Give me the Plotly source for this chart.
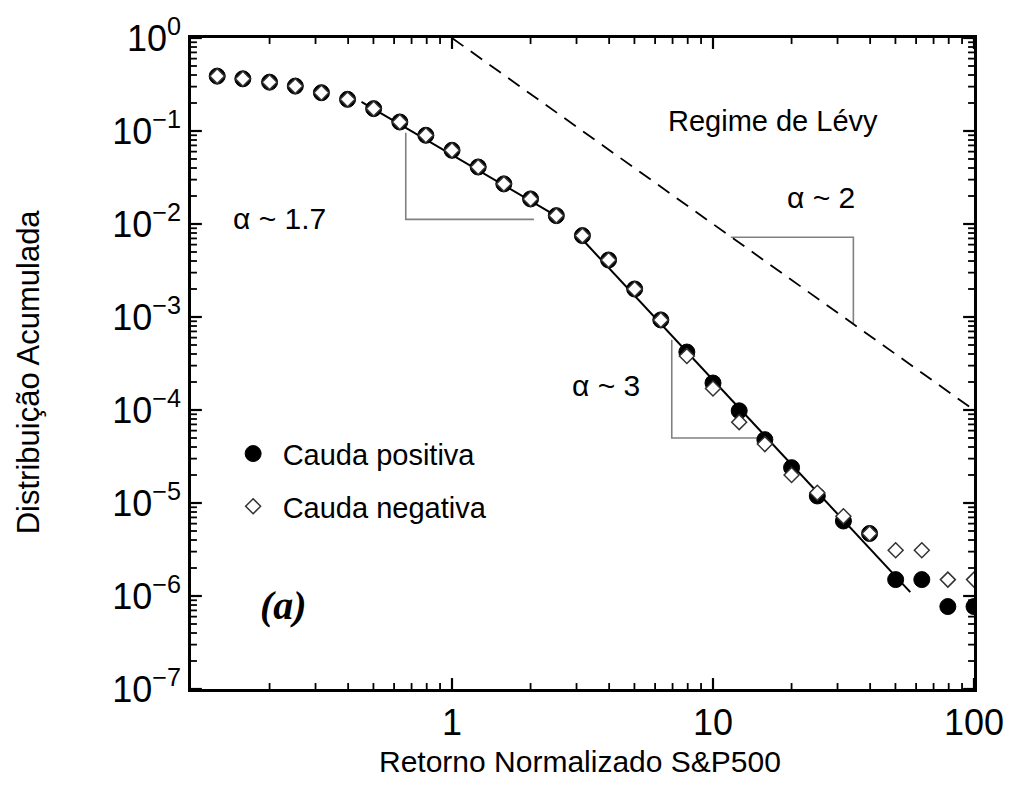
import plotly.graph_objects as go

# ---- data ----
x_vals = [0.126, 0.158, 0.2, 0.251, 0.316, 0.398, 0.501, 0.631, 0.794, 1.0,
          1.26, 1.58, 2.0, 2.51, 3.16, 3.98, 5.01, 6.31, 7.94, 10.0,
          12.6, 15.8, 20.0, 25.1, 31.6, 39.8, 50.1, 63.1, 79.4, 100.0]
cauda_pos = [0.389, 0.364, 0.335, 0.304, 0.258, 0.219, 0.174, 0.125, 0.090, 0.062,
             0.041, 0.027, 0.0186, 0.0123, 0.0075, 0.0041, 0.0020, 0.00093, 0.00042, 0.000195,
             0.000098, 0.000048, 0.000024, 0.0000119, 0.0000064, 0.0000047, 0.0000015, 0.0000015,
             0.00000077, 0.00000077]
cauda_neg = [0.389, 0.364, 0.335, 0.304, 0.258, 0.219, 0.174, 0.125, 0.090, 0.062,
             0.041, 0.027, 0.0186, 0.0123, 0.0075, 0.0041, 0.0020, 0.00093, 0.00038, 0.00017,
             0.000074, 0.000043, 0.000020, 0.0000129, 0.0000072, 0.0000047, 0.0000031, 0.0000031,
             0.0000015, 0.0000015]

fit17_x = [0.45, 2.6]
fit17_y = [0.206, 0.0115]
fit3_x = [3.02, 57.0]
fit3_y = [0.0078, 0.0000011]
levy_x = [1.0, 100.0]
levy_y = [1.0, 0.0001]
tri17_x = [0.665, 0.665, 2.06]
tri17_y = [0.096, 0.0112, 0.0112]
tri2_x = [11.7, 34.5, 34.5]
tri2_y = [0.0072, 0.0072, 0.00085]
tri3_x = [6.95, 6.95, 14.9]
tri3_y = [0.00057, 0.00005, 0.00005]

y_tickvals = [1, 0.1, 0.01, 0.001, 0.0001, 0.00001, 0.000001, 0.0000001]
y_ticktext = ["10<sup>0</sup>", "10<sup>\u22121</sup>", "10<sup>\u22122</sup>", "10<sup>\u22123</sup>",
              "10<sup>\u22124</sup>", "10<sup>\u22125</sup>", "10<sup>\u22126</sup>", "10<sup>\u22127</sup>"]
x_tickvals = [1, 10, 100]
x_ticktext = ["1", "10", "100"]
minor_digits = [2, 3, 4, 5, 6, 7, 8, 9]
x_decades = [0.1, 1, 10]
y_decades = [1e-7, 1e-6, 1e-5, 1e-4, 1e-3, 1e-2, 1e-1]
x_minor = [d * m for d in x_decades for m in minor_digits]
y_minor = [d * m for d in y_decades for m in minor_digits]

FONT = "Liberation Sans, Arial, sans-serif"

fig = go.Figure()

gray = "#808080"
for tx, ty in [(tri17_x, tri17_y), (tri2_x, tri2_y), (tri3_x, tri3_y)]:
    fig.add_trace(go.Scatter(x=tx, y=ty, mode="lines", line=dict(color=gray, width=1.6),
                             showlegend=False, hoverinfo="skip"))

fig.add_trace(go.Scatter(x=levy_x, y=levy_y, mode="lines",
                         line=dict(color="black", width=1.8, dash="14px,9px"),
                         showlegend=False, hoverinfo="skip"))
fig.add_trace(go.Scatter(x=fit17_x, y=fit17_y, mode="lines",
                         line=dict(color="black", width=2), showlegend=False, hoverinfo="skip"))
fig.add_trace(go.Scatter(x=fit3_x, y=fit3_y, mode="lines",
                         line=dict(color="black", width=2), showlegend=False, hoverinfo="skip"))

fig.add_trace(go.Scatter(x=x_vals, y=cauda_pos, mode="markers", name="Cauda positiva",
                         legendgroup="a",
                         marker=dict(symbol="circle", size=16, color="black",
                                     line=dict(color="black", width=1))))
fig.add_trace(go.Scatter(x=x_vals, y=cauda_neg, mode="markers", name="Cauda negativa",
                         legendgroup="b",
                         marker=dict(symbol="diamond", size=11.5, color="white",
                                     line=dict(color="#333333", width=1.5))))

W, H = 1016, 785
L, R, T, B = 191, 33, 35, 96
pw, ph = W - L - R, H - T - B

def px(x):
    return (x - L) / pw

def py(y):
    return (H - B - y) / ph

# inside tick marks on all four sides (shapes positioned by axis values)
shapes = []
def xtick(v, ln, w):
    f = ln / ph
    shapes.append(dict(type="line", xref="x", yref="paper", x0=v, x1=v, y0=0, y1=f,
                       line=dict(color="black", width=w)))
    shapes.append(dict(type="line", xref="x", yref="paper", x0=v, x1=v, y0=1, y1=1 - f,
                       line=dict(color="black", width=w)))

def ytick(v, ln, w):
    f = ln / pw
    shapes.append(dict(type="line", xref="paper", yref="y", x0=0, x1=f, y0=v, y1=v,
                       line=dict(color="black", width=w)))
    shapes.append(dict(type="line", xref="paper", yref="y", x0=1, x1=1 - f, y0=v, y1=v,
                       line=dict(color="black", width=w)))

for v in x_tickvals:
    xtick(v, 11, 2.2)
for v in x_minor:
    xtick(v, 6, 1.8)
for v in y_tickvals:
    ytick(v, 11, 2.2)
for v in y_minor:
    ytick(v, 6, 1.8)

axis_common = dict(type="log", showgrid=False, zeroline=False, showline=True,
                   linecolor="black", linewidth=2.5, mirror=True,
                   ticks="inside", tickwidth=1, tickcolor="rgba(0,0,0,0)")

fig.update_layout(
    xaxis=dict(range=[-1, 2], tickvals=x_tickvals, ticktext=x_ticktext, ticklen=20,
               tickfont=dict(family=FONT, size=36, color="black"), **axis_common),
    yaxis=dict(range=[-7, 0], tickvals=y_tickvals, ticktext=y_ticktext, ticklen=15,
               tickfont=dict(family=FONT, size=36, color="black"), **axis_common),
    shapes=shapes,
)

ann = []
def add_text(text, x, y, size=30, family=FONT, angle=0):
    ann.append(dict(text=text, x=px(x), y=py(y), xref="paper", yref="paper",
                    showarrow=False, xanchor="center", yanchor="middle",
                    textangle=angle, font=dict(family=family, size=size, color="black")))

add_text("Regime de Lévy", 780, 118, size=29)
add_text("\u03b1 ~ 1.7", 281, 216, size=30)
add_text("\u03b1 ~ 2", 828, 195, size=30)
add_text("\u03b1 ~ 3", 611, 384, size=30)
add_text("<b><i>(a)</i></b>", 285, 605, size=40, family="Liberation Serif, Times New Roman, serif")
add_text("Retorno Normalizado S&P500", 584, 762, size=30)
add_text("Distribuição Acumulada", 27, 370, size=31, angle=-90)

fig.update_layout(
    width=W, height=H,
    margin=dict(l=L, r=R, t=T, b=B, pad=0),
    paper_bgcolor="white", plot_bgcolor="white",
    annotations=ann,
    showlegend=True,
    legend=dict(x=px(224), y=py(427), xanchor="left", yanchor="top",
                bgcolor="rgba(0,0,0,0)", font=dict(family=FONT, size=29, color="black"),
                tracegroupgap=12, itemsizing="trace", itemwidth=49),
)

fig.write_html("out.html")
